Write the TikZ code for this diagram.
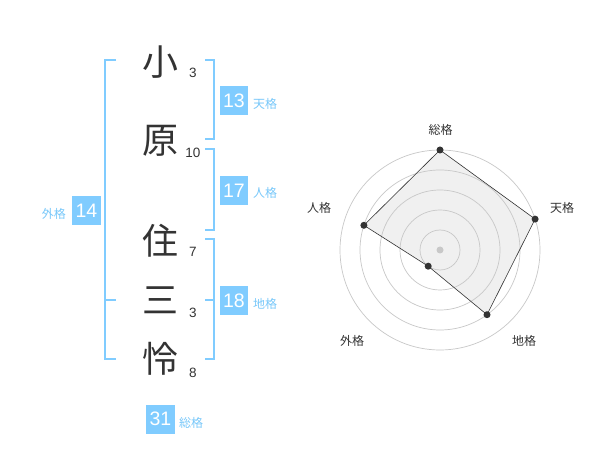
\documentclass[tikz,border=0pt]{standalone}
\usepackage{fontspec}
\setmainfont{Liberation Sans}
\newfontfamily\jpfont{Noto Sans CJK JP}
\definecolor{kblue}{RGB}{128,204,255}
\definecolor{klabel}{RGB}{120,200,250}
\definecolor{kdark}{RGB}{51,51,51}
\definecolor{kgrid}{RGB}{200,200,200}
\definecolor{kfill}{RGB}{240,240,240}
\tikzset{
  kanji/.style={font=\jpfont\fontsize{36}{36}\selectfont, text=kdark, inner sep=0pt},
  strokes/.style={font=\fontsize{13.5}{14}\selectfont, text=kdark, inner sep=0pt},
  numbox/.style={fill=kblue, text=white, font=\fontsize{19.5}{19.5}\selectfont, minimum width=28.5pt, minimum height=29pt, inner sep=0pt},
  kaku/.style={font=\jpfont\fontsize{12}{12}\selectfont, text=klabel, inner sep=0pt, anchor=west},
  bracket/.style={draw=kblue, line width=1.6pt},
  ring/.style={draw=kgrid, line width=0.7pt},
  axislabel/.style={font=\jpfont\fontsize{12}{12}\selectfont, text=kdark, inner sep=0pt},
  dot/.style={circle, fill=kdark, inner sep=0pt, minimum size=7pt}
}
\begin{document}
\begin{tikzpicture}[x=1pt,y=-1pt]
\useasboundingbox (0,0) rectangle (600,470);
\fill[white] (0,0) rectangle (600,470);
% characters
\node[kanji] (c1) at (160,62) {小};
\node[kanji] (c2) at (160,141) {原};
\node[kanji] (c3) at (160,241) {住};
\node[kanji] (c4) at (160,300) {三};
\node[kanji] (c5) at (160,359) {怜};
% stroke counts
\node[strokes] (s1) at (193,73) {3};
\node[strokes] (s2) at (193,153) {10};
\node[strokes] (s3) at (193,252) {7};
\node[strokes] (s4) at (193,313) {3};
\node[strokes] (s5) at (193,373) {8};
% brackets
\draw[bracket] (116,60) -- (105,60) -- (105,359) -- (116,359);
\draw[bracket] (105,300) -- (116,300);
\draw[bracket] (205,60) -- (214,60) -- (214,139) -- (205,139);
\draw[bracket] (205,149) -- (214,149) -- (214,230) -- (205,230);
\draw[bracket] (205,239) -- (214,239) -- (214,359) -- (205,359);
\draw[bracket] (205,300) -- (214,300);
% number boxes and labels
\node[numbox] (b13) at (234,100.5) {13};
\node[kaku] (l13) at (253,104) {天格};
\node[numbox] (b17) at (234,190.5) {17};
\node[kaku] (l17) at (253,193) {人格};
\node[numbox] (b18) at (234,300.5) {18};
\node[kaku] (l18) at (253,304) {地格};
\node[numbox] (b14) at (86.5,210.5) {14};
\node[kaku, anchor=east] (l14) at (66,214) {外格};
\node[numbox] (b31) at (160.5,419) {31};
\node[kaku] (l31) at (179,423) {総格};
% radar chart
\coordinate (ctr) at (440,250);
\coordinate (pS) at (440,150);
\coordinate (pT) at (535.1,219.1);
\coordinate (pC) at (487.0,314.7);
\coordinate (pG) at (428.2,266.2);
\coordinate (pJ) at (363.9,225.3);
\fill[kfill] (pS) -- (pT) -- (pC) -- (pG) -- (pJ) -- cycle;
\foreach \r in {20,40,60,80,100} \draw[ring] (ctr) circle[radius=\r];
\draw[kdark, line width=0.6pt] (pS) -- (pT) -- (pC) -- (pG) -- (pJ) -- cycle;
\fill[kgrid] (ctr) circle[radius=3.5];
\node[dot] (dS) at (pS) {};
\node[dot] (dT) at (pT) {};
\node[dot] (dC) at (pC) {};
\node[dot] (dG) at (pG) {};
\node[dot] (dJ) at (pJ) {};
\node[axislabel] (aS) at (440.5,130) {総格};
\node[axislabel] (aT) at (562,208) {天格};
\node[axislabel] (aC) at (524,341) {地格};
\node[axislabel] (aG) at (352,341) {外格};
\node[axislabel] (aJ) at (319,208) {人格};
\end{tikzpicture}
\end{document}
